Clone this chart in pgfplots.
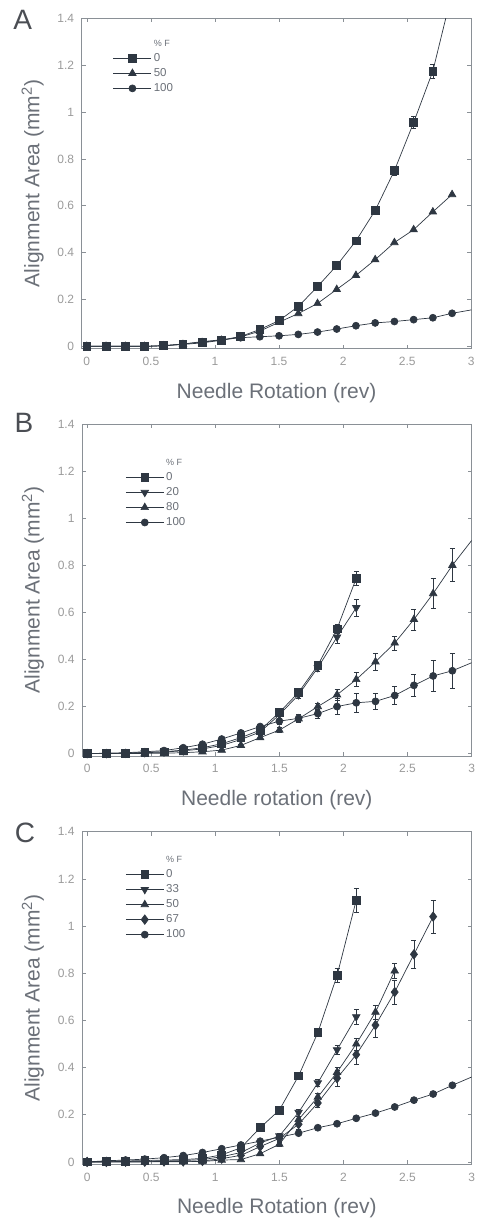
\documentclass[border=0pt]{standalone}
\usepackage{fontspec}
\setmainfont{Liberation Sans}
\usepackage{pgfplots}
\pgfplotsset{compat=1.18}
\usepackage{pgfplotstable}
\definecolor{ink}{HTML}{2E3742}
\definecolor{framec}{HTML}{8A9096}
\definecolor{ticktxt}{HTML}{9A9A9A}
\definecolor{labtxt}{HTML}{6B7078}

% Panel A
\pgfplotstableread{
x y e
0 0 0
0.15 0 0
0.3 0 0
0.45 0 0
0.6 0.003 0
0.75 0.01 0
0.9 0.018 0
1.05 0.027 0
1.2 0.042 0
1.35 0.072 0.005
1.5 0.11 0.008
1.65 0.17 0.01
1.8 0.255 0.01
1.95 0.345 0.012
2.1 0.45 0.015
2.25 0.58 0.015
2.4 0.75 0.02
2.55 0.955 0.025
2.7 1.175 0.03
2.85 1.51 0.03
}\Aa
\pgfplotstableread{
x y e
0 0 0
0.15 0 0
0.3 0 0
0.45 0 0
0.6 0.002 0
0.75 0.008 0
0.9 0.015 0
1.05 0.026 0
1.2 0.04 0
1.35 0.065 0
1.5 0.103 0
1.65 0.14 0
1.8 0.183 0
1.95 0.243 0
2.1 0.303 0
2.25 0.37 0
2.4 0.443 0
2.55 0.498 0
2.7 0.574 0
2.85 0.648 0
}\Ab
\pgfplotstableread{
x y e
0 0 0
0.15 0 0
0.3 0 0
0.45 0 0
0.6 0.003 0
0.75 0.01 0
0.9 0.02 0
1.05 0.028 0
1.2 0.037 0
1.35 0.041 0
1.5 0.045 0
1.65 0.051 0
1.8 0.061 0
1.95 0.074 0
2.1 0.088 0
2.25 0.1 0
2.4 0.106 0
2.55 0.114 0
2.7 0.122 0
2.85 0.141 0
3.15 0.17 0
}\Ac

% Panel B
\pgfplotstableread{
x y e
0 0 0
0.15 0 0
0.3 0.002 0
0.45 0.005 0
0.6 0.008 0
0.75 0.015 0.003
0.9 0.025 0.004
1.05 0.042 0.005
1.2 0.068 0.007
1.35 0.1 0.01
1.5 0.175 0.015
1.65 0.26 0.015
1.8 0.375 0.015
1.95 0.53 0.02
2.1 0.745 0.03
}\Ba
\pgfplotstableread{
x y e
0 0 0
0.15 0 0
0.3 0.002 0
0.45 0.004 0
0.6 0.007 0
0.75 0.012 0
0.9 0.02 0
1.05 0.035 0
1.2 0.06 0
1.35 0.092 0.008
1.5 0.165 0.015
1.65 0.25 0.015
1.8 0.365 0.015
1.95 0.495 0.025
2.1 0.62 0.035
}\Bb
\pgfplotstableread{
x y e
0 0 0
0.15 0 0
0.3 0 0
0.45 0.001 0
0.6 0.002 0
0.75 0.004 0
0.9 0.008 0
1.05 0.015 0
1.2 0.035 0.005
1.35 0.068 0.008
1.5 0.1 0.01
1.65 0.148 0.012
1.8 0.2 0.015
1.95 0.25 0.022
2.1 0.315 0.03
2.25 0.39 0.035
2.4 0.47 0.03
2.55 0.57 0.045
2.7 0.68 0.063
2.85 0.8 0.07
3.15 1.01 0
}\Bc
\pgfplotstableread{
x y e
0 0 0
0.15 0.002 0
0.3 0.004 0
0.45 0.008 0
0.6 0.013 0
0.75 0.025 0
0.9 0.04 0
1.05 0.062 0
1.2 0.088 0
1.35 0.115 0.01
1.5 0.138 0.012
1.65 0.15 0.015
1.8 0.17 0.02
1.95 0.2 0.035
2.1 0.216 0.04
2.25 0.222 0.035
2.4 0.247 0.037
2.55 0.29 0.048
2.7 0.33 0.067
2.85 0.352 0.075
3.15 0.42 0
}\Bd

% Panel C
\pgfplotstableread{
x y e
0 0 0
0.15 0.003 0
0.3 0.004 0
0.45 0.006 0
0.6 0.008 0
0.75 0.01 0
0.9 0.015 0
1.05 0.03 0
1.2 0.06 0.005
1.35 0.145 0.01
1.5 0.22 0.01
1.65 0.365 0.01
1.8 0.548 0.015
1.95 0.79 0.03
2.1 1.11 0.05
}\Ca
\pgfplotstableread{
x y e
0 0 0
0.15 0.001 0
0.3 0.002 0
0.45 0.003 0
0.6 0.004 0
0.75 0.006 0
0.9 0.01 0
1.05 0.022 0
1.2 0.04 0
1.35 0.08 0.01
1.5 0.11 0.01
1.65 0.21 0.015
1.8 0.335 0.015
1.95 0.475 0.02
2.1 0.615 0.03
}\Cb
\pgfplotstableread{
x y e
0 0 0
0.15 0 0
0.3 0 0
0.45 0 0
0.6 0.001 0
0.75 0.001 0
0.9 0.002 0
1.05 0.008 0
1.2 0.01 0
1.35 0.035 0.005
1.5 0.075 0.01
1.65 0.18 0.015
1.8 0.275 0.015
1.95 0.38 0.02
2.1 0.5 0.025
2.25 0.635 0.03
2.4 0.81 0.03
}\Cc
\pgfplotstableread{
x y e
0 0 0
0.15 0 0
0.3 0.001 0
0.45 0.001 0
0.6 0.002 0
0.75 0.002 0
0.9 0.004 0
1.05 0.014 0
1.2 0.028 0
1.35 0.065 0.008
1.5 0.1 0.012
1.65 0.16 0.02
1.8 0.25 0.02
1.95 0.355 0.035
2.1 0.455 0.04
2.25 0.58 0.05
2.4 0.72 0.05
2.55 0.88 0.06
2.7 1.04 0.07
}\Cd
\pgfplotstableread{
x y e
0 0 0
0.15 0.005 0
0.3 0.008 0
0.45 0.012 0
0.6 0.018 0
0.75 0.027 0
0.9 0.04 0
1.05 0.056 0
1.2 0.072 0
1.35 0.088 0
1.5 0.105 0
1.65 0.122 0
1.8 0.145 0
1.95 0.162 0
2.1 0.185 0
2.25 0.207 0
2.4 0.233 0
2.55 0.262 0
2.7 0.288 0
2.85 0.325 0
3.15 0.395 0
}\Ce

\pgfplotsset{
  panel/.style={
    scale only axis, width=389.6pt,
    xmin=-0.04, xmax=3, ymin=-0.01, ymax=1.4,
    xtick={0,0.5,1,1.5,2,2.5,3},
    ytick={0,0.2,0.4,0.6,0.8,1,1.2,1.4},
    tick pos=both, tick align=inside, major tick length=4pt,
    axis line style={framec, line width=0.8pt},
    every tick/.style={framec, line width=0.6pt},
    /pgf/number format/assume math mode=true,
    tick label style={font=\fontsize{12}{13}\selectfont, text=ticktxt},
    xticklabel style={yshift=-5pt},
    yticklabel style={xshift=-4pt},
    label style={font=\fontsize{21}{25}\selectfont, text=labtxt},
    xlabel style={at={(axis description cs:0.5,-0.133)}, anchor=center},
    ylabel style={at={(axis description cs:-0.126,0.5)}, anchor=center},
    ylabel={Alignment Area (mm\textsuperscript{2})},
    legend style={draw=none, fill=none, inner sep=0pt, anchor=north west,
      font=\fontsize{11.5}{12}\selectfont, text=labtxt, row sep=1.5pt},
    legend cell align=left,
    legend image code/.code={
      \draw[mark repeat=2,mark phase=2] plot coordinates {(0pt,0pt) (19pt,0pt) (38pt,0pt)};
    },
  },
  ser/.style={ink, line width=0.7pt, mark options={solid, fill=ink, draw=ink},
    error bars/y dir=both, error bars/y explicit,
    error bars/error bar style={ink, line width=0.6pt},
    error bars/error mark options={rotate=90, mark size=2.5pt, ink, line width=0.6pt}},
  sq/.style={ser, mark=square*, mark size=3.9pt},
  tri/.style={ser, mark=triangle*, mark size=4.3pt},
  dtri/.style={ser, mark=triangle*, mark size=4.3pt, mark options={rotate=180, fill=ink}},
  circ/.style={ser, mark=*, mark size=3.5pt},
  diam/.style={ser, mark=diamond*, mark size=4.7pt},
}

\begin{document}
\begin{tikzpicture}
\useasboundingbox (0pt,0pt) rectangle (487pt,1221pt);

% ---------------- A
\begin{axis}[panel, name=pA, at={(81.7pt,872.3pt)}, anchor=south west, height=330.4pt,
  xlabel={Needle Rotation (rev)},
  legend style={at={(axis description cs:0.08,0.94)}}]
\addlegendimage{empty legend}\addlegendentry{\fontsize{9}{10}\selectfont\% F}
\addplot[sq] table[x=x,y=y,y error=e]{\Aa};\addlegendentry{0}
\addplot[tri] table[x=x,y=y,y error=e]{\Ab};\addlegendentry{50}
\addplot[circ] table[x=x,y=y,y error=e]{\Ac};\addlegendentry{100}
\end{axis}
\node[font=\fontsize{28}{30}\selectfont, text=labtxt!70!black, anchor=center] at ([xshift=-59pt,yshift=-2pt]pA.north west) {A};

% ---------------- B
\begin{axis}[panel, name=pB, at={(82pt,465pt)}, anchor=south west, height=332pt,
  xlabel={Needle rotation (rev)},
  legend style={at={(axis description cs:0.111,0.9)}}]
\addlegendimage{empty legend}\addlegendentry{\fontsize{9}{10}\selectfont\% F}
\addplot[sq] table[x=x,y=y,y error=e]{\Ba};\addlegendentry{0}
\addplot[dtri] table[x=x,y=y,y error=e]{\Bb};\addlegendentry{20}
\addplot[tri] table[x=x,y=y,y error=e]{\Bc};\addlegendentry{80}
\addplot[circ] table[x=x,y=y,y error=e]{\Bd};\addlegendentry{100}
\end{axis}
\node[font=\fontsize{28}{30}\selectfont, text=labtxt!70!black, anchor=center] at ([xshift=-58pt,yshift=1pt]pB.north west) {B};

% ---------------- C
\begin{axis}[panel, name=pC, at={(82pt,56.7pt)}, anchor=south west, height=332.6pt,
  xlabel={Needle Rotation (rev)},
  legend style={at={(axis description cs:0.111,0.932)}}]
\addlegendimage{empty legend}\addlegendentry{\fontsize{9}{10}\selectfont\% F}
\addplot[sq] table[x=x,y=y,y error=e]{\Ca};\addlegendentry{0}
\addplot[dtri] table[x=x,y=y,y error=e]{\Cb};\addlegendentry{33}
\addplot[tri] table[x=x,y=y,y error=e]{\Cc};\addlegendentry{50}
\addplot[diam] table[x=x,y=y,y error=e]{\Cd};\addlegendentry{67}
\addplot[circ] table[x=x,y=y,y error=e]{\Ce};\addlegendentry{100}
\end{axis}
\node[font=\fontsize{28}{30}\selectfont, text=labtxt!70!black, anchor=center] at ([xshift=-57pt,yshift=-1pt]pC.north west) {C};
\end{tikzpicture}
\end{document}
